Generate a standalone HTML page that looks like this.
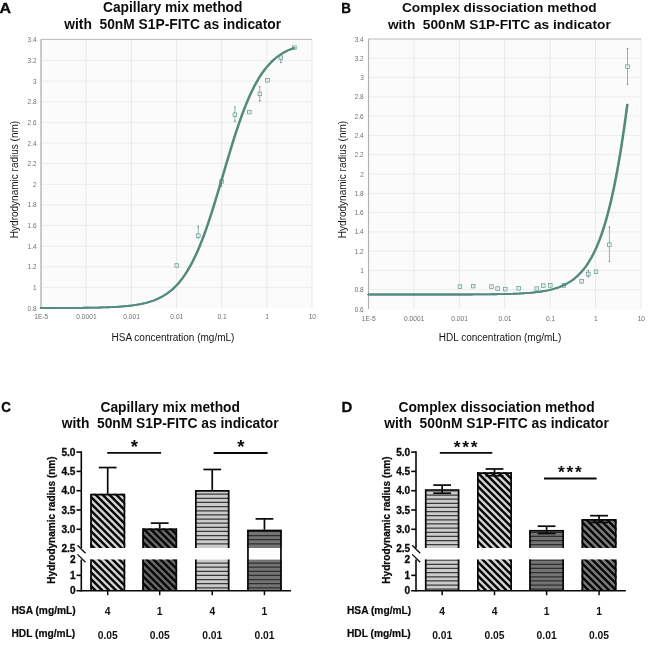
<!DOCTYPE html>
<html lang="en"><head><meta charset="utf-8"><title>Figure</title>
<style>html,body{margin:0;padding:0;background:#fff}body{width:650px;height:649px;overflow:hidden}svg{display:block}</style>
</head><body>
<svg width="650" height="649" viewBox="0 0 650 649" font-family='"Liberation Sans", sans-serif'>
<defs>
</defs>
<rect width="650" height="649" fill="#fff"/>
<text transform="translate(-0.4,12.8) scale(1.04,1)" font-size="15.4" font-weight="bold" fill="#0a0a0a" stroke="#0a0a0a" stroke-width="0.35">A</text>
<text transform="translate(341.3,12.9) scale(0.87,1)" font-size="15.4" font-weight="bold" fill="#0a0a0a" stroke="#0a0a0a" stroke-width="0.35">B</text>
<text transform="translate(1.2,412.0) scale(0.87,1)" font-size="15.4" font-weight="bold" fill="#0a0a0a" stroke="#0a0a0a" stroke-width="0.35">C</text>
<text transform="translate(341.4,412.0) scale(0.97,1)" font-size="15.4" font-weight="bold" fill="#0a0a0a" stroke="#0a0a0a" stroke-width="0.35">D</text>
<text x="172.7" y="12.2" text-anchor="middle" font-size="13.8" font-weight="bold" fill="#0c0c0c">Capillary mix method</text>
<text x="172.7" y="28.6" text-anchor="middle" font-size="13.8" font-weight="bold" fill="#0c0c0c" xml:space="preserve" style="white-space:pre">with  50nM S1P-FITC as indicator</text>
<text x="499.3" y="12.2" text-anchor="middle" font-size="13.7" font-weight="bold" fill="#0c0c0c">Complex dissociation method</text>
<text x="499.3" y="28.6" text-anchor="middle" font-size="13.7" font-weight="bold" fill="#0c0c0c" xml:space="preserve" style="white-space:pre">with  500nM S1P-FITC as indicator</text>
<text x="170.2" y="411.6" text-anchor="middle" font-size="13.8" font-weight="bold" fill="#0c0c0c">Capillary mix method</text>
<text x="170.2" y="428.2" text-anchor="middle" font-size="13.8" font-weight="bold" fill="#0c0c0c" xml:space="preserve" style="white-space:pre">with  50nM S1P-FITC as indicator</text>
<text x="496.6" y="411.8" text-anchor="middle" font-size="13.8" font-weight="bold" fill="#0c0c0c">Complex dissociation method</text>
<text x="496.6" y="428.4" text-anchor="middle" font-size="13.8" font-weight="bold" fill="#0c0c0c" xml:space="preserve" style="white-space:pre">with  500nM S1P-FITC as indicator</text>
<rect x="41" y="39.4" width="271" height="268.6" fill="#fbfbfb"/>
<line x1="86.17" y1="39.4" x2="86.17" y2="308" stroke="#e9e9e9" stroke-width="1"/>
<line x1="131.33" y1="39.4" x2="131.33" y2="308" stroke="#e9e9e9" stroke-width="1"/>
<line x1="176.5" y1="39.4" x2="176.5" y2="308" stroke="#e9e9e9" stroke-width="1"/>
<line x1="221.67" y1="39.4" x2="221.67" y2="308" stroke="#e9e9e9" stroke-width="1"/>
<line x1="266.83" y1="39.4" x2="266.83" y2="308" stroke="#e9e9e9" stroke-width="1"/>
<line x1="312" y1="39.4" x2="312" y2="308" stroke="#e9e9e9" stroke-width="1"/>
<line x1="41" y1="60.52" x2="312" y2="60.52" stroke="#ececec" stroke-width="1"/>
<line x1="41" y1="81.15" x2="312" y2="81.15" stroke="#ececec" stroke-width="1"/>
<line x1="41" y1="101.77" x2="312" y2="101.77" stroke="#ececec" stroke-width="1"/>
<line x1="41" y1="122.39" x2="312" y2="122.39" stroke="#ececec" stroke-width="1"/>
<line x1="41" y1="143.02" x2="312" y2="143.02" stroke="#ececec" stroke-width="1"/>
<line x1="41" y1="163.64" x2="312" y2="163.64" stroke="#ececec" stroke-width="1"/>
<line x1="41" y1="184.26" x2="312" y2="184.26" stroke="#ececec" stroke-width="1"/>
<line x1="41" y1="204.88" x2="312" y2="204.88" stroke="#ececec" stroke-width="1"/>
<line x1="41" y1="225.51" x2="312" y2="225.51" stroke="#ececec" stroke-width="1"/>
<line x1="41" y1="246.13" x2="312" y2="246.13" stroke="#ececec" stroke-width="1"/>
<line x1="41" y1="266.75" x2="312" y2="266.75" stroke="#ececec" stroke-width="1"/>
<line x1="41" y1="287.38" x2="312" y2="287.38" stroke="#ececec" stroke-width="1"/>
<line x1="41" y1="39.4" x2="312" y2="39.4" stroke="#b9b9b9" stroke-width="1"/>
<line x1="41" y1="39.4" x2="41" y2="308" stroke="#a0a0a0" stroke-width="1.1"/>
<text transform="translate(36.5,42.4) scale(0.93,1)" text-anchor="end" font-size="6.9" fill="#6e6e6e">3.4</text>
<text transform="translate(36.5,63.02) scale(0.93,1)" text-anchor="end" font-size="6.9" fill="#6e6e6e">3.2</text>
<text transform="translate(36.5,83.65) scale(0.93,1)" text-anchor="end" font-size="6.9" fill="#6e6e6e">3</text>
<text transform="translate(36.5,104.27) scale(0.93,1)" text-anchor="end" font-size="6.9" fill="#6e6e6e">2.8</text>
<text transform="translate(36.5,124.89) scale(0.93,1)" text-anchor="end" font-size="6.9" fill="#6e6e6e">2.6</text>
<text transform="translate(36.5,145.52) scale(0.93,1)" text-anchor="end" font-size="6.9" fill="#6e6e6e">2.4</text>
<text transform="translate(36.5,166.14) scale(0.93,1)" text-anchor="end" font-size="6.9" fill="#6e6e6e">2.2</text>
<text transform="translate(36.5,186.76) scale(0.93,1)" text-anchor="end" font-size="6.9" fill="#6e6e6e">2</text>
<text transform="translate(36.5,207.38) scale(0.93,1)" text-anchor="end" font-size="6.9" fill="#6e6e6e">1.8</text>
<text transform="translate(36.5,228.01) scale(0.93,1)" text-anchor="end" font-size="6.9" fill="#6e6e6e">1.6</text>
<text transform="translate(36.5,248.63) scale(0.93,1)" text-anchor="end" font-size="6.9" fill="#6e6e6e">1.4</text>
<text transform="translate(36.5,269.25) scale(0.93,1)" text-anchor="end" font-size="6.9" fill="#6e6e6e">1.2</text>
<text transform="translate(36.5,289.88) scale(0.93,1)" text-anchor="end" font-size="6.9" fill="#6e6e6e">1</text>
<text transform="translate(36.5,310.5) scale(0.93,1)" text-anchor="end" font-size="6.9" fill="#6e6e6e">0.8</text>
<text transform="translate(41.3,319.3) scale(0.96,1)" text-anchor="middle" font-size="6.9" fill="#6e6e6e">1E-5</text>
<text transform="translate(86.47,319.3) scale(0.96,1)" text-anchor="middle" font-size="6.9" fill="#6e6e6e">0.0001</text>
<text transform="translate(131.63,319.3) scale(0.96,1)" text-anchor="middle" font-size="6.9" fill="#6e6e6e">0.001</text>
<text transform="translate(176.8,319.3) scale(0.96,1)" text-anchor="middle" font-size="6.9" fill="#6e6e6e">0.01</text>
<text transform="translate(221.97,319.3) scale(0.96,1)" text-anchor="middle" font-size="6.9" fill="#6e6e6e">0.1</text>
<text transform="translate(267.13,319.3) scale(0.96,1)" text-anchor="middle" font-size="6.9" fill="#6e6e6e">1</text>
<text transform="translate(312.3,319.3) scale(0.96,1)" text-anchor="middle" font-size="6.9" fill="#6e6e6e">10</text>
<line x1="176.8" y1="264" x2="176.8" y2="267" stroke="#5f9688" stroke-width="0.7"/>
<rect x="175" y="263.7" width="3.6" height="3.6" fill="#f4f7f6" fill-opacity="0.7" stroke="#5f9688" stroke-width="0.7"/>
<line x1="198.3" y1="226.4" x2="198.3" y2="238" stroke="#5f9688" stroke-width="0.7"/>
<circle cx="198.3" cy="226.4" r="0.8" fill="#5f9688"/><circle cx="198.3" cy="238" r="0.8" fill="#5f9688"/>
<rect x="196.5" y="233.9" width="3.6" height="3.6" fill="#f4f7f6" fill-opacity="0.7" stroke="#5f9688" stroke-width="0.7"/>
<line x1="221.5" y1="181.5" x2="221.5" y2="186.5" stroke="#5f9688" stroke-width="0.7"/>
<circle cx="221.5" cy="181.5" r="0.8" fill="#5f9688"/><circle cx="221.5" cy="186.5" r="0.8" fill="#5f9688"/>
<rect x="219.7" y="179.7" width="3.6" height="3.6" fill="#f4f7f6" fill-opacity="0.7" stroke="#5f9688" stroke-width="0.7"/>
<line x1="234.9" y1="107" x2="234.9" y2="121.4" stroke="#5f9688" stroke-width="0.7"/>
<circle cx="234.9" cy="107" r="0.8" fill="#5f9688"/><circle cx="234.9" cy="121.4" r="0.8" fill="#5f9688"/>
<rect x="233.1" y="112.9" width="3.6" height="3.6" fill="#f4f7f6" fill-opacity="0.7" stroke="#5f9688" stroke-width="0.7"/>
<line x1="249.3" y1="110.6" x2="249.3" y2="113.6" stroke="#5f9688" stroke-width="0.7"/>
<rect x="247.5" y="110.3" width="3.6" height="3.6" fill="#f4f7f6" fill-opacity="0.7" stroke="#5f9688" stroke-width="0.7"/>
<line x1="259.8" y1="86.7" x2="259.8" y2="100.9" stroke="#5f9688" stroke-width="0.7"/>
<circle cx="259.8" cy="86.7" r="0.8" fill="#5f9688"/><circle cx="259.8" cy="100.9" r="0.8" fill="#5f9688"/>
<rect x="258" y="92.1" width="3.6" height="3.6" fill="#f4f7f6" fill-opacity="0.7" stroke="#5f9688" stroke-width="0.7"/>
<line x1="267.5" y1="78.9" x2="267.5" y2="81.9" stroke="#5f9688" stroke-width="0.7"/>
<rect x="265.7" y="78.6" width="3.6" height="3.6" fill="#f4f7f6" fill-opacity="0.7" stroke="#5f9688" stroke-width="0.7"/>
<line x1="280.9" y1="57.7" x2="280.9" y2="62.4" stroke="#5f9688" stroke-width="0.7"/>
<circle cx="280.9" cy="57.7" r="0.8" fill="#5f9688"/><circle cx="280.9" cy="62.4" r="0.8" fill="#5f9688"/>
<rect x="279.1" y="55.9" width="3.6" height="3.6" fill="#f4f7f6" fill-opacity="0.7" stroke="#5f9688" stroke-width="0.7"/>
<line x1="294.4" y1="46.2" x2="294.4" y2="49.2" stroke="#5f9688" stroke-width="0.7"/>
<rect x="292.6" y="45.9" width="3.6" height="3.6" fill="#f4f7f6" fill-opacity="0.7" stroke="#5f9688" stroke-width="0.7"/>
<g fill="none" stroke="#538a7e" stroke-width="1.85" stroke-linecap="round" stroke-linejoin="round"><polyline points="41,307.98 42.58,307.97 44.16,307.97 45.74,307.97 47.33,307.97 48.91,307.96 50.49,307.96 52.07,307.96 53.65,307.95 55.23,307.95 56.81,307.94 58.4,307.94 59.98,307.93 61.56,307.93 63.14,307.92 64.72,307.92 66.3,307.91 67.88,307.9 69.47,307.89 71.05,307.89 72.63,307.88 74.21,307.87 75.79,307.85 77.37,307.84 78.95,307.83 80.54,307.81 82.12,307.8 83.7,307.78 85.28,307.76 86.86,307.74 88.44,307.72 90.02,307.7 91.61,307.67 93.19,307.65 94.77,307.62 96.35,307.59 97.93,307.55 99.51,307.51 101.09,307.47 102.68,307.43 104.26,307.38 105.84,307.33 107.42,307.27 109,307.21 110.58,307.14 112.16,307.07 113.75,307 115.33,306.91 116.91,306.82 118.49,306.72 120.07,306.61 121.65,306.5 123.23,306.37 124.81,306.24 126.4,306.09 127.98,305.93 129.56,305.76 131.14,305.57 132.72,305.37 134.3,305.15 135.88,304.92 137.47,304.66 139.05,304.39 140.63,304.09 142.21,303.76 143.79,303.41 145.37,303.04 146.95,302.63 148.54,302.19 150.12,301.71 151.7,301.19 153.28,300.64 154.86,300.04 156.44,299.39 158.02,298.69 159.61,297.94 161.19,297.13 162.77,296.26 164.35,295.32 165.93,294.31 167.51,293.23 169.09,292.06 170.68,290.81 172.26,289.46 173.84,288.02 175.42,286.48 177,284.83 178.58,283.07 180.16,281.18 181.75,279.18 183.33,277.04 184.91,274.76 186.49,272.34 188.07,269.78 189.65,267.06 191.23,264.19 192.82,261.15 194.4,257.96 195.98,254.6 197.56,251.07 199.14,247.37 200.72,243.51 202.3,239.49 203.89,235.3 205.47,230.96 207.05,226.46 208.63,221.83 210.21,217.06 211.79,212.16 213.37,207.15 214.96,202.04 216.54,196.85 218.12,191.59 219.7,186.27 221.28,180.91 222.86,175.53 224.44,170.15 226.03,164.78 227.61,159.45 229.19,154.16 230.77,148.94 232.35,143.79 233.93,138.74 235.51,133.8 237.1,128.98 238.68,124.29 240.26,119.74 241.84,115.33 243.42,111.09 245,107 246.58,103.07 248.17,99.31 249.75,95.71 251.33,92.29 252.91,89.03 254.49,85.93 256.07,82.99 257.65,80.21 259.24,77.59 260.82,75.11 262.4,72.78 263.98,70.59 265.56,68.53 267.14,66.6 268.72,64.79 270.31,63.09 271.89,61.51 273.47,60.03 275.05,58.65 276.63,57.36 278.21,56.16 279.79,55.04 281.38,54 282.96,53.04 284.54,52.14 286.12,51.3 287.7,50.53 289.28,49.81 290.86,49.14 292.44,48.53 294.03,47.95" transform="translate(-0.35,0)"/><polyline points="41,307.98 42.58,307.97 44.16,307.97 45.74,307.97 47.33,307.97 48.91,307.96 50.49,307.96 52.07,307.96 53.65,307.95 55.23,307.95 56.81,307.94 58.4,307.94 59.98,307.93 61.56,307.93 63.14,307.92 64.72,307.92 66.3,307.91 67.88,307.9 69.47,307.89 71.05,307.89 72.63,307.88 74.21,307.87 75.79,307.85 77.37,307.84 78.95,307.83 80.54,307.81 82.12,307.8 83.7,307.78 85.28,307.76 86.86,307.74 88.44,307.72 90.02,307.7 91.61,307.67 93.19,307.65 94.77,307.62 96.35,307.59 97.93,307.55 99.51,307.51 101.09,307.47 102.68,307.43 104.26,307.38 105.84,307.33 107.42,307.27 109,307.21 110.58,307.14 112.16,307.07 113.75,307 115.33,306.91 116.91,306.82 118.49,306.72 120.07,306.61 121.65,306.5 123.23,306.37 124.81,306.24 126.4,306.09 127.98,305.93 129.56,305.76 131.14,305.57 132.72,305.37 134.3,305.15 135.88,304.92 137.47,304.66 139.05,304.39 140.63,304.09 142.21,303.76 143.79,303.41 145.37,303.04 146.95,302.63 148.54,302.19 150.12,301.71 151.7,301.19 153.28,300.64 154.86,300.04 156.44,299.39 158.02,298.69 159.61,297.94 161.19,297.13 162.77,296.26 164.35,295.32 165.93,294.31 167.51,293.23 169.09,292.06 170.68,290.81 172.26,289.46 173.84,288.02 175.42,286.48 177,284.83 178.58,283.07 180.16,281.18 181.75,279.18 183.33,277.04 184.91,274.76 186.49,272.34 188.07,269.78 189.65,267.06 191.23,264.19 192.82,261.15 194.4,257.96 195.98,254.6 197.56,251.07 199.14,247.37 200.72,243.51 202.3,239.49 203.89,235.3 205.47,230.96 207.05,226.46 208.63,221.83 210.21,217.06 211.79,212.16 213.37,207.15 214.96,202.04 216.54,196.85 218.12,191.59 219.7,186.27 221.28,180.91 222.86,175.53 224.44,170.15 226.03,164.78 227.61,159.45 229.19,154.16 230.77,148.94 232.35,143.79 233.93,138.74 235.51,133.8 237.1,128.98 238.68,124.29 240.26,119.74 241.84,115.33 243.42,111.09 245,107 246.58,103.07 248.17,99.31 249.75,95.71 251.33,92.29 252.91,89.03 254.49,85.93 256.07,82.99 257.65,80.21 259.24,77.59 260.82,75.11 262.4,72.78 263.98,70.59 265.56,68.53 267.14,66.6 268.72,64.79 270.31,63.09 271.89,61.51 273.47,60.03 275.05,58.65 276.63,57.36 278.21,56.16 279.79,55.04 281.38,54 282.96,53.04 284.54,52.14 286.12,51.3 287.7,50.53 289.28,49.81 290.86,49.14 292.44,48.53 294.03,47.95" transform="translate(0.35,0)"/></g>
<text transform="translate(17.8,179.5) rotate(-90)" text-anchor="middle" font-size="10" fill="#161616">Hydrodynamic radius (nm)</text>
<text x="173" y="341.3" text-anchor="middle" font-size="10" fill="#161616">HSA concentration (mg/mL)</text>
<rect x="368.5" y="39" width="272.5" height="270" fill="#fbfbfb"/>
<line x1="413.92" y1="39" x2="413.92" y2="309" stroke="#e9e9e9" stroke-width="1"/>
<line x1="459.33" y1="39" x2="459.33" y2="309" stroke="#e9e9e9" stroke-width="1"/>
<line x1="504.75" y1="39" x2="504.75" y2="309" stroke="#e9e9e9" stroke-width="1"/>
<line x1="550.17" y1="39" x2="550.17" y2="309" stroke="#e9e9e9" stroke-width="1"/>
<line x1="595.58" y1="39" x2="595.58" y2="309" stroke="#e9e9e9" stroke-width="1"/>
<line x1="641" y1="39" x2="641" y2="309" stroke="#e9e9e9" stroke-width="1"/>
<line x1="368.5" y1="58.29" x2="641" y2="58.29" stroke="#ececec" stroke-width="1"/>
<line x1="368.5" y1="77.57" x2="641" y2="77.57" stroke="#ececec" stroke-width="1"/>
<line x1="368.5" y1="96.86" x2="641" y2="96.86" stroke="#ececec" stroke-width="1"/>
<line x1="368.5" y1="116.14" x2="641" y2="116.14" stroke="#ececec" stroke-width="1"/>
<line x1="368.5" y1="135.43" x2="641" y2="135.43" stroke="#ececec" stroke-width="1"/>
<line x1="368.5" y1="154.71" x2="641" y2="154.71" stroke="#ececec" stroke-width="1"/>
<line x1="368.5" y1="174" x2="641" y2="174" stroke="#ececec" stroke-width="1"/>
<line x1="368.5" y1="193.29" x2="641" y2="193.29" stroke="#ececec" stroke-width="1"/>
<line x1="368.5" y1="212.57" x2="641" y2="212.57" stroke="#ececec" stroke-width="1"/>
<line x1="368.5" y1="231.86" x2="641" y2="231.86" stroke="#ececec" stroke-width="1"/>
<line x1="368.5" y1="251.14" x2="641" y2="251.14" stroke="#ececec" stroke-width="1"/>
<line x1="368.5" y1="270.43" x2="641" y2="270.43" stroke="#ececec" stroke-width="1"/>
<line x1="368.5" y1="289.71" x2="641" y2="289.71" stroke="#ececec" stroke-width="1"/>
<line x1="368.5" y1="39" x2="641" y2="39" stroke="#b9b9b9" stroke-width="1"/>
<line x1="368.5" y1="39" x2="368.5" y2="309" stroke="#b0b0b0" stroke-width="1.1"/>
<text transform="translate(363.7,41.5) scale(0.93,1)" text-anchor="end" font-size="6.9" fill="#6e6e6e">3.4</text>
<text transform="translate(363.7,60.79) scale(0.93,1)" text-anchor="end" font-size="6.9" fill="#6e6e6e">3.2</text>
<text transform="translate(363.7,80.07) scale(0.93,1)" text-anchor="end" font-size="6.9" fill="#6e6e6e">3</text>
<text transform="translate(363.7,99.36) scale(0.93,1)" text-anchor="end" font-size="6.9" fill="#6e6e6e">2.8</text>
<text transform="translate(363.7,118.64) scale(0.93,1)" text-anchor="end" font-size="6.9" fill="#6e6e6e">2.6</text>
<text transform="translate(363.7,137.93) scale(0.93,1)" text-anchor="end" font-size="6.9" fill="#6e6e6e">2.4</text>
<text transform="translate(363.7,157.21) scale(0.93,1)" text-anchor="end" font-size="6.9" fill="#6e6e6e">2.2</text>
<text transform="translate(363.7,176.5) scale(0.93,1)" text-anchor="end" font-size="6.9" fill="#6e6e6e">2</text>
<text transform="translate(363.7,195.79) scale(0.93,1)" text-anchor="end" font-size="6.9" fill="#6e6e6e">1.8</text>
<text transform="translate(363.7,215.07) scale(0.93,1)" text-anchor="end" font-size="6.9" fill="#6e6e6e">1.6</text>
<text transform="translate(363.7,234.36) scale(0.93,1)" text-anchor="end" font-size="6.9" fill="#6e6e6e">1.4</text>
<text transform="translate(363.7,253.64) scale(0.93,1)" text-anchor="end" font-size="6.9" fill="#6e6e6e">1.2</text>
<text transform="translate(363.7,272.93) scale(0.93,1)" text-anchor="end" font-size="6.9" fill="#6e6e6e">1</text>
<text transform="translate(363.7,292.21) scale(0.93,1)" text-anchor="end" font-size="6.9" fill="#6e6e6e">0.8</text>
<text transform="translate(363.7,311.5) scale(0.93,1)" text-anchor="end" font-size="6.9" fill="#6e6e6e">0.6</text>
<text transform="translate(368.8,320.5) scale(0.96,1)" text-anchor="middle" font-size="6.9" fill="#6e6e6e">1E-5</text>
<text transform="translate(414.22,320.5) scale(0.96,1)" text-anchor="middle" font-size="6.9" fill="#6e6e6e">0.0001</text>
<text transform="translate(459.63,320.5) scale(0.96,1)" text-anchor="middle" font-size="6.9" fill="#6e6e6e">0.001</text>
<text transform="translate(505.05,320.5) scale(0.96,1)" text-anchor="middle" font-size="6.9" fill="#6e6e6e">0.01</text>
<text transform="translate(550.47,320.5) scale(0.96,1)" text-anchor="middle" font-size="6.9" fill="#6e6e6e">0.1</text>
<text transform="translate(595.88,320.5) scale(0.96,1)" text-anchor="middle" font-size="6.9" fill="#6e6e6e">1</text>
<text transform="translate(641.3,320.5) scale(0.96,1)" text-anchor="middle" font-size="6.9" fill="#6e6e6e">10</text>
<line x1="459.9" y1="285.1" x2="459.9" y2="288.1" stroke="#5f9688" stroke-width="0.7"/>
<rect x="458.1" y="284.8" width="3.6" height="3.6" fill="#f4f7f6" fill-opacity="0.7" stroke="#5f9688" stroke-width="0.7"/>
<line x1="473.2" y1="284.6" x2="473.2" y2="287.6" stroke="#5f9688" stroke-width="0.7"/>
<rect x="471.4" y="284.3" width="3.6" height="3.6" fill="#f4f7f6" fill-opacity="0.7" stroke="#5f9688" stroke-width="0.7"/>
<line x1="491.5" y1="285.1" x2="491.5" y2="288.1" stroke="#5f9688" stroke-width="0.7"/>
<rect x="489.7" y="284.8" width="3.6" height="3.6" fill="#f4f7f6" fill-opacity="0.7" stroke="#5f9688" stroke-width="0.7"/>
<line x1="497.6" y1="287.1" x2="497.6" y2="290.1" stroke="#5f9688" stroke-width="0.7"/>
<rect x="495.8" y="286.8" width="3.6" height="3.6" fill="#f4f7f6" fill-opacity="0.7" stroke="#5f9688" stroke-width="0.7"/>
<line x1="505.3" y1="287.6" x2="505.3" y2="290.6" stroke="#5f9688" stroke-width="0.7"/>
<rect x="503.5" y="287.3" width="3.6" height="3.6" fill="#f4f7f6" fill-opacity="0.7" stroke="#5f9688" stroke-width="0.7"/>
<line x1="518.7" y1="286.9" x2="518.7" y2="289.9" stroke="#5f9688" stroke-width="0.7"/>
<rect x="516.9" y="286.6" width="3.6" height="3.6" fill="#f4f7f6" fill-opacity="0.7" stroke="#5f9688" stroke-width="0.7"/>
<line x1="536.7" y1="287.1" x2="536.7" y2="290.1" stroke="#5f9688" stroke-width="0.7"/>
<rect x="534.9" y="286.8" width="3.6" height="3.6" fill="#f4f7f6" fill-opacity="0.7" stroke="#5f9688" stroke-width="0.7"/>
<line x1="543.3" y1="284.1" x2="543.3" y2="287.1" stroke="#5f9688" stroke-width="0.7"/>
<rect x="541.5" y="283.8" width="3.6" height="3.6" fill="#f4f7f6" fill-opacity="0.7" stroke="#5f9688" stroke-width="0.7"/>
<line x1="550.3" y1="283.9" x2="550.3" y2="286.9" stroke="#5f9688" stroke-width="0.7"/>
<rect x="548.5" y="283.6" width="3.6" height="3.6" fill="#f4f7f6" fill-opacity="0.7" stroke="#5f9688" stroke-width="0.7"/>
<line x1="563.9" y1="283.9" x2="563.9" y2="286.9" stroke="#5f9688" stroke-width="0.7"/>
<rect x="562.1" y="283.6" width="3.6" height="3.6" fill="#f4f7f6" fill-opacity="0.7" stroke="#5f9688" stroke-width="0.7"/>
<line x1="581.7" y1="279.8" x2="581.7" y2="282.8" stroke="#5f9688" stroke-width="0.7"/>
<rect x="579.9" y="279.5" width="3.6" height="3.6" fill="#f4f7f6" fill-opacity="0.7" stroke="#5f9688" stroke-width="0.7"/>
<line x1="588.3" y1="270.5" x2="588.3" y2="277" stroke="#5f9688" stroke-width="0.7"/>
<circle cx="588.3" cy="270.5" r="0.8" fill="#5f9688"/><circle cx="588.3" cy="277" r="0.8" fill="#5f9688"/>
<rect x="586.5" y="272.2" width="3.6" height="3.6" fill="#f4f7f6" fill-opacity="0.7" stroke="#5f9688" stroke-width="0.7"/>
<line x1="596" y1="270.3" x2="596" y2="273.3" stroke="#5f9688" stroke-width="0.7"/>
<rect x="594.2" y="270" width="3.6" height="3.6" fill="#f4f7f6" fill-opacity="0.7" stroke="#5f9688" stroke-width="0.7"/>
<line x1="609.4" y1="227" x2="609.4" y2="261.5" stroke="#5f9688" stroke-width="0.7"/>
<circle cx="609.4" cy="227" r="0.8" fill="#5f9688"/><circle cx="609.4" cy="261.5" r="0.8" fill="#5f9688"/>
<rect x="607.6" y="242.9" width="3.6" height="3.6" fill="#f4f7f6" fill-opacity="0.7" stroke="#5f9688" stroke-width="0.7"/>
<line x1="627.5" y1="48.5" x2="627.5" y2="84.2" stroke="#5f9688" stroke-width="0.7"/>
<circle cx="627.5" cy="48.5" r="0.8" fill="#5f9688"/><circle cx="627.5" cy="84.2" r="0.8" fill="#5f9688"/>
<rect x="625.7" y="64.8" width="3.6" height="3.6" fill="#f4f7f6" fill-opacity="0.7" stroke="#5f9688" stroke-width="0.7"/>
<g fill="none" stroke="#538a7e" stroke-width="1.85" stroke-linecap="round" stroke-linejoin="round"><polyline points="368.5,294.54 370.12,294.54 371.74,294.54 373.35,294.54 374.97,294.54 376.59,294.53 378.21,294.53 379.82,294.53 381.44,294.53 383.06,294.53 384.68,294.53 386.29,294.53 387.91,294.53 389.53,294.53 391.15,294.53 392.77,294.53 394.38,294.53 396,294.53 397.62,294.53 399.24,294.53 400.85,294.53 402.47,294.53 404.09,294.53 405.71,294.53 407.32,294.53 408.94,294.53 410.56,294.53 412.18,294.53 413.79,294.53 415.41,294.53 417.03,294.53 418.65,294.53 420.27,294.53 421.88,294.53 423.5,294.53 425.12,294.53 426.74,294.53 428.35,294.53 429.97,294.52 431.59,294.52 433.21,294.52 434.82,294.52 436.44,294.52 438.06,294.52 439.68,294.52 441.3,294.52 442.91,294.52 444.53,294.51 446.15,294.51 447.77,294.51 449.38,294.51 451,294.5 452.62,294.5 454.24,294.5 455.85,294.5 457.47,294.49 459.09,294.49 460.71,294.48 462.33,294.48 463.94,294.48 465.56,294.47 467.18,294.47 468.8,294.46 470.41,294.45 472.03,294.45 473.65,294.44 475.27,294.43 476.88,294.42 478.5,294.41 480.12,294.4 481.74,294.39 483.36,294.38 484.97,294.36 486.59,294.35 488.21,294.33 489.83,294.31 491.44,294.29 493.06,294.27 494.68,294.25 496.3,294.23 497.91,294.2 499.53,294.17 501.15,294.14 502.77,294.11 504.38,294.07 506,294.03 507.62,293.99 509.24,293.94 510.86,293.89 512.47,293.83 514.09,293.77 515.71,293.71 517.33,293.64 518.94,293.56 520.56,293.48 522.18,293.39 523.8,293.29 525.41,293.18 527.03,293.07 528.65,292.94 530.27,292.81 531.89,292.66 533.5,292.5 535.12,292.33 536.74,292.14 538.36,291.93 539.97,291.71 541.59,291.47 543.21,291.21 544.83,290.93 546.44,290.62 548.06,290.29 549.68,289.92 551.3,289.53 552.92,289.11 554.53,288.65 556.15,288.15 557.77,287.6 559.39,287.02 561,286.38 562.62,285.69 564.24,284.94 565.86,284.13 567.47,283.25 569.09,282.3 570.71,281.27 572.33,280.15 573.94,278.94 575.56,277.63 577.18,276.21 578.8,274.68 580.42,273.02 582.03,271.23 583.65,269.29 585.27,267.19 586.89,264.93 588.5,262.49 590.12,259.85 591.74,257 593.36,253.93 594.97,250.62 596.59,247.05 598.21,243.21 599.83,239.08 601.45,234.64 603.06,229.87 604.68,224.75 606.3,219.26 607.92,213.37 609.53,207.07 611.15,200.34 612.77,193.15 614.39,185.48 616,177.3 617.62,168.61 619.24,159.38 620.86,149.59 622.48,139.23 624.09,128.28 625.71,116.73 627.33,104.57" transform="translate(-0.35,0)"/><polyline points="368.5,294.54 370.12,294.54 371.74,294.54 373.35,294.54 374.97,294.54 376.59,294.53 378.21,294.53 379.82,294.53 381.44,294.53 383.06,294.53 384.68,294.53 386.29,294.53 387.91,294.53 389.53,294.53 391.15,294.53 392.77,294.53 394.38,294.53 396,294.53 397.62,294.53 399.24,294.53 400.85,294.53 402.47,294.53 404.09,294.53 405.71,294.53 407.32,294.53 408.94,294.53 410.56,294.53 412.18,294.53 413.79,294.53 415.41,294.53 417.03,294.53 418.65,294.53 420.27,294.53 421.88,294.53 423.5,294.53 425.12,294.53 426.74,294.53 428.35,294.53 429.97,294.52 431.59,294.52 433.21,294.52 434.82,294.52 436.44,294.52 438.06,294.52 439.68,294.52 441.3,294.52 442.91,294.52 444.53,294.51 446.15,294.51 447.77,294.51 449.38,294.51 451,294.5 452.62,294.5 454.24,294.5 455.85,294.5 457.47,294.49 459.09,294.49 460.71,294.48 462.33,294.48 463.94,294.48 465.56,294.47 467.18,294.47 468.8,294.46 470.41,294.45 472.03,294.45 473.65,294.44 475.27,294.43 476.88,294.42 478.5,294.41 480.12,294.4 481.74,294.39 483.36,294.38 484.97,294.36 486.59,294.35 488.21,294.33 489.83,294.31 491.44,294.29 493.06,294.27 494.68,294.25 496.3,294.23 497.91,294.2 499.53,294.17 501.15,294.14 502.77,294.11 504.38,294.07 506,294.03 507.62,293.99 509.24,293.94 510.86,293.89 512.47,293.83 514.09,293.77 515.71,293.71 517.33,293.64 518.94,293.56 520.56,293.48 522.18,293.39 523.8,293.29 525.41,293.18 527.03,293.07 528.65,292.94 530.27,292.81 531.89,292.66 533.5,292.5 535.12,292.33 536.74,292.14 538.36,291.93 539.97,291.71 541.59,291.47 543.21,291.21 544.83,290.93 546.44,290.62 548.06,290.29 549.68,289.92 551.3,289.53 552.92,289.11 554.53,288.65 556.15,288.15 557.77,287.6 559.39,287.02 561,286.38 562.62,285.69 564.24,284.94 565.86,284.13 567.47,283.25 569.09,282.3 570.71,281.27 572.33,280.15 573.94,278.94 575.56,277.63 577.18,276.21 578.8,274.68 580.42,273.02 582.03,271.23 583.65,269.29 585.27,267.19 586.89,264.93 588.5,262.49 590.12,259.85 591.74,257 593.36,253.93 594.97,250.62 596.59,247.05 598.21,243.21 599.83,239.08 601.45,234.64 603.06,229.87 604.68,224.75 606.3,219.26 607.92,213.37 609.53,207.07 611.15,200.34 612.77,193.15 614.39,185.48 616,177.3 617.62,168.61 619.24,159.38 620.86,149.59 622.48,139.23 624.09,128.28 625.71,116.73 627.33,104.57" transform="translate(0.35,0)"/></g>
<text transform="translate(346,179.5) rotate(-90)" text-anchor="middle" font-size="10" fill="#161616">Hydrodynamic radius (nm)</text>
<text x="500" y="341.3" text-anchor="middle" font-size="10" fill="#161616">HDL concentration (mg/mL)</text>
<clipPath id="c81_0_0"><rect x="90.2" y="493.79" width="35" height="54.21"/></clipPath>
<rect x="90.2" y="493.79" width="35" height="54.21" fill="#d4d4d4"/>
<g clip-path="url(#c81_0_0)" stroke="#080808" fill="none"><path d="M87.2 458.85L128.2 499.85M87.2 465.7L128.2 506.7M87.2 472.55L128.2 513.55M87.2 479.4L128.2 520.4M87.2 486.25L128.2 527.25M87.2 493.1L128.2 534.1M87.2 499.95L128.2 540.95M87.2 506.8L128.2 547.8M87.2 513.65L128.2 554.65M87.2 520.5L128.2 561.5M87.2 527.35L128.2 568.35M87.2 534.2L128.2 575.2M87.2 541.05L128.2 582.05M87.2 547.9L128.2 588.9" stroke-width="2.45"/></g>
<clipPath id="c81_0_1"><rect x="90.2" y="559.6" width="35" height="31.2"/></clipPath>
<rect x="90.2" y="559.6" width="35" height="31.2" fill="#d4d4d4"/>
<g clip-path="url(#c81_0_1)" stroke="#080808" fill="none"><path d="M87.2 520.5L128.2 561.5M87.2 527.35L128.2 568.35M87.2 534.2L128.2 575.2M87.2 541.05L128.2 582.05M87.2 547.9L128.2 588.9M87.2 554.75L128.2 595.75M87.2 561.6L128.2 602.6M87.2 568.45L128.2 609.45M87.2 575.3L128.2 616.3M87.2 582.15L128.2 623.15M87.2 589L128.2 630" stroke-width="2.45"/></g>
<path d="M91.05 548.0 V494.64 H124.35 V548.0" fill="none" stroke="#080808" stroke-width="1.7"/>
<path d="M91.05 559.6 V590.8 M124.35 559.6 V590.8" fill="none" stroke="#080808" stroke-width="1.7"/>
<line x1="107.7" y1="467.54" x2="107.7" y2="493.79" stroke="#080808" stroke-width="1.7"/>
<line x1="98.8" y1="467.54" x2="116.6" y2="467.54" stroke="#080808" stroke-width="1.7"/>
<line x1="107.7" y1="590.8" x2="107.7" y2="595.2" stroke="#080808" stroke-width="1.5"/>
<clipPath id="c81_1_0"><rect x="142.3" y="528.53" width="34.8" height="19.47"/></clipPath>
<rect x="142.3" y="528.53" width="34.8" height="19.47" fill="#686868"/>
<g clip-path="url(#c81_1_0)" stroke="#080808" fill="none"><path d="M139.3 490.4L180.1 531.2M139.3 497.25L180.1 538.05M139.3 504.1L180.1 544.9M139.3 510.95L180.1 551.75M139.3 517.8L180.1 558.6M139.3 524.65L180.1 565.45M139.3 531.5L180.1 572.3M139.3 538.35L180.1 579.15M139.3 545.2L180.1 586" stroke-width="2.45"/></g>
<clipPath id="c81_1_1"><rect x="142.3" y="559.6" width="34.8" height="31.2"/></clipPath>
<rect x="142.3" y="559.6" width="34.8" height="31.2" fill="#686868"/>
<g clip-path="url(#c81_1_1)" stroke="#080808" fill="none"><path d="M139.3 524.65L180.1 565.45M139.3 531.5L180.1 572.3M139.3 538.35L180.1 579.15M139.3 545.2L180.1 586M139.3 552.05L180.1 592.85M139.3 558.9L180.1 599.7M139.3 565.75L180.1 606.55M139.3 572.6L180.1 613.4M139.3 579.45L180.1 620.25M139.3 586.3L180.1 627.1" stroke-width="2.45"/></g>
<path d="M143.15 548.0 V529.38 H176.25 V548.0" fill="none" stroke="#080808" stroke-width="1.7"/>
<path d="M143.15 559.6 V590.8 M176.25 559.6 V590.8" fill="none" stroke="#080808" stroke-width="1.7"/>
<line x1="159.7" y1="523.12" x2="159.7" y2="528.53" stroke="#080808" stroke-width="1.7"/>
<line x1="150.8" y1="523.12" x2="168.6" y2="523.12" stroke="#080808" stroke-width="1.7"/>
<line x1="159.7" y1="590.8" x2="159.7" y2="595.2" stroke="#080808" stroke-width="1.5"/>
<clipPath id="c81_2_0"><rect x="195" y="489.93" width="34.5" height="58.07"/></clipPath>
<rect x="195" y="489.93" width="34.5" height="58.07" fill="#cbcbcb"/>
<g clip-path="url(#c81_2_0)" stroke="#3a3a3a" fill="none"><path d="M195 490.06H229.5M195 494.2H229.5M195 498.34H229.5M195 502.48H229.5M195 506.62H229.5M195 510.76H229.5M195 514.9H229.5M195 519.04H229.5M195 523.18H229.5M195 527.32H229.5M195 531.46H229.5M195 535.6H229.5M195 539.74H229.5M195 543.88H229.5" stroke-width="1.25"/></g>
<clipPath id="c81_2_1"><rect x="195" y="559.6" width="34.5" height="31.2"/></clipPath>
<rect x="195" y="559.6" width="34.5" height="31.2" fill="#cbcbcb"/>
<g clip-path="url(#c81_2_1)" stroke="#3a3a3a" fill="none"><path d="M195 563H229.5M195 567.14H229.5M195 571.28H229.5M195 575.42H229.5M195 579.56H229.5M195 583.7H229.5M195 587.84H229.5" stroke-width="1.25"/></g>
<path d="M195.85 548.0 V490.78 H228.65 V548.0" fill="none" stroke="#080808" stroke-width="1.7"/>
<path d="M195.85 559.6 V590.8 M228.65 559.6 V590.8" fill="none" stroke="#080808" stroke-width="1.7"/>
<line x1="212.25" y1="469.47" x2="212.25" y2="489.93" stroke="#080808" stroke-width="1.7"/>
<line x1="203.35" y1="469.47" x2="221.15" y2="469.47" stroke="#080808" stroke-width="1.7"/>
<line x1="212.25" y1="590.8" x2="212.25" y2="595.2" stroke="#080808" stroke-width="1.5"/>
<clipPath id="c81_3_0"><rect x="247.1" y="529.69" width="34.7" height="18.31"/></clipPath>
<rect x="247.1" y="529.69" width="34.7" height="18.31" fill="#747474"/>
<g clip-path="url(#c81_3_0)" stroke="#2e2e2e" fill="none"><path d="M247.1 531.46H281.8M247.1 535.6H281.8M247.1 539.74H281.8M247.1 543.88H281.8" stroke-width="1.25"/></g>
<clipPath id="c81_3_1"><rect x="247.1" y="559.6" width="34.7" height="31.2"/></clipPath>
<rect x="247.1" y="559.6" width="34.7" height="31.2" fill="#747474"/>
<g clip-path="url(#c81_3_1)" stroke="#2e2e2e" fill="none"><path d="M247.1 563H281.8M247.1 567.14H281.8M247.1 571.28H281.8M247.1 575.42H281.8M247.1 579.56H281.8M247.1 583.7H281.8M247.1 587.84H281.8" stroke-width="1.25"/></g>
<path d="M247.95 590.8 V530.54 H280.95 V590.8" fill="none" stroke="#080808" stroke-width="1.7"/>
<line x1="264.45" y1="518.88" x2="264.45" y2="529.69" stroke="#080808" stroke-width="1.7"/>
<line x1="255.55" y1="518.88" x2="273.35" y2="518.88" stroke="#080808" stroke-width="1.7"/>
<line x1="264.45" y1="590.8" x2="264.45" y2="595.2" stroke="#080808" stroke-width="1.5"/>
<line x1="81.3" y1="451.3" x2="81.3" y2="548.0" stroke="#080808" stroke-width="1.6"/>
<line x1="81.3" y1="559.6" x2="81.3" y2="591.6" stroke="#080808" stroke-width="1.6"/>
<line x1="76.5" y1="590.8" x2="291.1" y2="590.8" stroke="#080808" stroke-width="1.6"/>
<line x1="77.5" y1="545.2" x2="85.5" y2="553.2" stroke="#080808" stroke-width="1.3"/>
<line x1="77.5" y1="554.4" x2="85.5" y2="562.2" stroke="#080808" stroke-width="1.3"/>
<line x1="76.5" y1="452.1" x2="81.3" y2="452.1" stroke="#080808" stroke-width="1.6"/>
<text x="75.5" y="455.8" text-anchor="end" font-size="10.1" font-weight="bold" fill="#0a0a0a" stroke="#0a0a0a" stroke-width="0.3">5.0</text>
<line x1="76.5" y1="471.4" x2="81.3" y2="471.4" stroke="#080808" stroke-width="1.6"/>
<text x="75.5" y="475.1" text-anchor="end" font-size="10.1" font-weight="bold" fill="#0a0a0a" stroke="#0a0a0a" stroke-width="0.3">4.5</text>
<line x1="76.5" y1="490.7" x2="81.3" y2="490.7" stroke="#080808" stroke-width="1.6"/>
<text x="75.5" y="494.4" text-anchor="end" font-size="10.1" font-weight="bold" fill="#0a0a0a" stroke="#0a0a0a" stroke-width="0.3">4.0</text>
<line x1="76.5" y1="510" x2="81.3" y2="510" stroke="#080808" stroke-width="1.6"/>
<text x="75.5" y="513.7" text-anchor="end" font-size="10.1" font-weight="bold" fill="#0a0a0a" stroke="#0a0a0a" stroke-width="0.3">3.5</text>
<line x1="76.5" y1="529.3" x2="81.3" y2="529.3" stroke="#080808" stroke-width="1.6"/>
<text x="75.5" y="533" text-anchor="end" font-size="10.1" font-weight="bold" fill="#0a0a0a" stroke="#0a0a0a" stroke-width="0.3">3.0</text>
<text x="75.5" y="552.0" text-anchor="end" font-size="10.1" font-weight="bold" fill="#0a0a0a" stroke="#0a0a0a" stroke-width="0.3">2.5</text>
<text x="75.5" y="562.7" text-anchor="end" font-size="10.1" font-weight="bold" fill="#0a0a0a" stroke="#0a0a0a" stroke-width="0.3">2</text>
<line x1="76.5" y1="575.35" x2="81.3" y2="575.35" stroke="#080808" stroke-width="1.6"/>
<text x="75.5" y="578.65" text-anchor="end" font-size="10.1" font-weight="bold" fill="#0a0a0a" stroke="#0a0a0a" stroke-width="0.3">1</text>
<text x="75.5" y="594.1" text-anchor="end" font-size="10.1" font-weight="bold" fill="#0a0a0a" stroke="#0a0a0a" stroke-width="0.3">0</text>
<text transform="translate(55.3,520) rotate(-90)" text-anchor="middle" font-size="10.05" font-weight="bold" fill="#0a0a0a" stroke="#0a0a0a" stroke-width="0.25">Hydrodynamic radius (nm)</text>
<line x1="107.2" y1="452.9" x2="161.10000000000002" y2="452.9" stroke="#080808" stroke-width="1.9"/>
<line x1="213.7" y1="453" x2="267.6" y2="453" stroke="#080808" stroke-width="1.9"/>
<text x="134.3" y="453.1" text-anchor="middle" font-size="18.5" font-weight="bold" fill="#0c0c0c">*</text>
<text x="240.9" y="453.1" text-anchor="middle" font-size="18.5" font-weight="bold" fill="#0c0c0c">*</text>
<text x="11.5" y="613.8" font-size="10.2" font-weight="bold" fill="#0a0a0a" stroke="#0a0a0a" stroke-width="0.2">HSA (mg/mL)</text>
<text x="11.5" y="637.4" font-size="10.2" font-weight="bold" fill="#0a0a0a" stroke="#0a0a0a" stroke-width="0.2">HDL (mg/mL)</text>
<text x="107.7" y="614.6" text-anchor="middle" font-size="10.3" font-weight="bold" fill="#111">4</text>
<text x="107.7" y="639.3" text-anchor="middle" font-size="10.3" font-weight="bold" fill="#111">0.05</text>
<text x="159.7" y="614.6" text-anchor="middle" font-size="10.3" font-weight="bold" fill="#111">1</text>
<text x="159.7" y="639.3" text-anchor="middle" font-size="10.3" font-weight="bold" fill="#111">0.05</text>
<text x="212.25" y="614.6" text-anchor="middle" font-size="10.3" font-weight="bold" fill="#111">4</text>
<text x="212.25" y="639.3" text-anchor="middle" font-size="10.3" font-weight="bold" fill="#111">0.01</text>
<text x="264.45" y="614.6" text-anchor="middle" font-size="10.3" font-weight="bold" fill="#111">1</text>
<text x="264.45" y="639.3" text-anchor="middle" font-size="10.3" font-weight="bold" fill="#111">0.01</text>
<clipPath id="c416_0_0"><rect x="424.9" y="489.16" width="34.5" height="58.84"/></clipPath>
<rect x="424.9" y="489.16" width="34.5" height="58.84" fill="#cbcbcb"/>
<g clip-path="url(#c416_0_0)" stroke="#3a3a3a" fill="none"><path d="M424.9 490.86H459.4M424.9 495H459.4M424.9 499.14H459.4M424.9 503.28H459.4M424.9 507.42H459.4M424.9 511.56H459.4M424.9 515.7H459.4M424.9 519.84H459.4M424.9 523.98H459.4M424.9 528.12H459.4M424.9 532.26H459.4M424.9 536.4H459.4M424.9 540.54H459.4M424.9 544.68H459.4" stroke-width="1.25"/></g>
<clipPath id="c416_0_1"><rect x="424.9" y="559.6" width="34.5" height="31.2"/></clipPath>
<rect x="424.9" y="559.6" width="34.5" height="31.2" fill="#cbcbcb"/>
<g clip-path="url(#c416_0_1)" stroke="#3a3a3a" fill="none"><path d="M424.9 560.2H459.4M424.9 564.34H459.4M424.9 568.48H459.4M424.9 572.62H459.4M424.9 576.76H459.4M424.9 580.9H459.4M424.9 585.04H459.4M424.9 589.18H459.4" stroke-width="1.25"/></g>
<path d="M425.75 548.0 V490.01 H458.55 V548.0" fill="none" stroke="#080808" stroke-width="1.7"/>
<path d="M425.75 559.6 V590.8 M458.55 559.6 V590.8" fill="none" stroke="#080808" stroke-width="1.7"/>
<line x1="442.15" y1="485.1" x2="442.15" y2="489.16" stroke="#080808" stroke-width="1.7"/>
<line x1="433.25" y1="485.1" x2="451.05" y2="485.1" stroke="#080808" stroke-width="1.7"/>
<line x1="442.15" y1="489.16" x2="442.15" y2="493.21" stroke="#080808" stroke-width="1.7"/>
<line x1="433.25" y1="493.21" x2="451.05" y2="493.21" stroke="#080808" stroke-width="1.7"/>
<line x1="442.15" y1="590.8" x2="442.15" y2="595.2" stroke="#080808" stroke-width="1.5"/>
<clipPath id="c416_1_0"><rect x="477" y="472.37" width="35" height="75.63"/></clipPath>
<rect x="477" y="472.37" width="35" height="75.63" fill="#d4d4d4"/>
<g clip-path="url(#c416_1_0)" stroke="#080808" fill="none"><path d="M474 434.65L515 475.65M474 441.5L515 482.5M474 448.35L515 489.35M474 455.2L515 496.2M474 462.05L515 503.05M474 468.9L515 509.9M474 475.75L515 516.75M474 482.6L515 523.6M474 489.45L515 530.45M474 496.3L515 537.3M474 503.15L515 544.15M474 510L515 551M474 516.85L515 557.85M474 523.7L515 564.7M474 530.55L515 571.55M474 537.4L515 578.4M474 544.25L515 585.25" stroke-width="2.45"/></g>
<clipPath id="c416_1_1"><rect x="477" y="559.6" width="35" height="31.2"/></clipPath>
<rect x="477" y="559.6" width="35" height="31.2" fill="#d4d4d4"/>
<g clip-path="url(#c416_1_1)" stroke="#080808" fill="none"><path d="M474 523.7L515 564.7M474 530.55L515 571.55M474 537.4L515 578.4M474 544.25L515 585.25M474 551.1L515 592.1M474 557.95L515 598.95M474 564.8L515 605.8M474 571.65L515 612.65M474 578.5L515 619.5M474 585.35L515 626.35" stroke-width="2.45"/></g>
<path d="M477.85 548.0 V473.22 H511.15 V548.0" fill="none" stroke="#080808" stroke-width="1.7"/>
<path d="M477.85 559.6 V590.8 M511.15 559.6 V590.8" fill="none" stroke="#080808" stroke-width="1.7"/>
<line x1="494.5" y1="468.97" x2="494.5" y2="472.37" stroke="#080808" stroke-width="1.7"/>
<line x1="485.6" y1="468.97" x2="503.4" y2="468.97" stroke="#080808" stroke-width="1.7"/>
<line x1="494.5" y1="472.37" x2="494.5" y2="475.76" stroke="#080808" stroke-width="1.7"/>
<line x1="485.6" y1="475.76" x2="503.4" y2="475.76" stroke="#080808" stroke-width="1.7"/>
<line x1="494.5" y1="590.8" x2="494.5" y2="595.2" stroke="#080808" stroke-width="1.5"/>
<clipPath id="c416_2_0"><rect x="529.2" y="529.88" width="34.8" height="18.12"/></clipPath>
<rect x="529.2" y="529.88" width="34.8" height="18.12" fill="#747474"/>
<g clip-path="url(#c416_2_0)" stroke="#2e2e2e" fill="none"><path d="M529.2 532.26H564M529.2 536.4H564M529.2 540.54H564M529.2 544.68H564" stroke-width="1.25"/></g>
<clipPath id="c416_2_1"><rect x="529.2" y="559.6" width="34.8" height="31.2"/></clipPath>
<rect x="529.2" y="559.6" width="34.8" height="31.2" fill="#747474"/>
<g clip-path="url(#c416_2_1)" stroke="#2e2e2e" fill="none"><path d="M529.2 560.2H564M529.2 564.34H564M529.2 568.48H564M529.2 572.62H564M529.2 576.76H564M529.2 580.9H564M529.2 585.04H564M529.2 589.18H564" stroke-width="1.25"/></g>
<path d="M530.05 548.0 V530.73 H563.15 V548.0" fill="none" stroke="#080808" stroke-width="1.7"/>
<path d="M530.05 559.6 V590.8 M563.15 559.6 V590.8" fill="none" stroke="#080808" stroke-width="1.7"/>
<line x1="546.6" y1="526.21" x2="546.6" y2="529.88" stroke="#080808" stroke-width="1.7"/>
<line x1="537.7" y1="526.21" x2="555.5" y2="526.21" stroke="#080808" stroke-width="1.7"/>
<line x1="546.6" y1="529.88" x2="546.6" y2="533.55" stroke="#080808" stroke-width="1.7"/>
<line x1="537.7" y1="533.55" x2="555.5" y2="533.55" stroke="#080808" stroke-width="1.7"/>
<line x1="546.6" y1="590.8" x2="546.6" y2="595.2" stroke="#080808" stroke-width="1.5"/>
<clipPath id="c416_3_0"><rect x="581.6" y="519.07" width="34.9" height="28.93"/></clipPath>
<rect x="581.6" y="519.07" width="34.9" height="28.93" fill="#7c7c7c"/>
<g clip-path="url(#c416_3_0)" stroke="#080808" fill="none"><path d="M578.6 484.45L619.5 525.35M578.6 491.3L619.5 532.2M578.6 498.15L619.5 539.05M578.6 505L619.5 545.9M578.6 511.85L619.5 552.75M578.6 518.7L619.5 559.6M578.6 525.55L619.5 566.45M578.6 532.4L619.5 573.3M578.6 539.25L619.5 580.15M578.6 546.1L619.5 587" stroke-width="2.45"/></g>
<clipPath id="c416_3_1"><rect x="581.6" y="559.6" width="34.9" height="31.2"/></clipPath>
<rect x="581.6" y="559.6" width="34.9" height="31.2" fill="#7c7c7c"/>
<g clip-path="url(#c416_3_1)" stroke="#080808" fill="none"><path d="M578.6 518.7L619.5 559.6M578.6 525.55L619.5 566.45M578.6 532.4L619.5 573.3M578.6 539.25L619.5 580.15M578.6 546.1L619.5 587M578.6 552.95L619.5 593.85M578.6 559.8L619.5 600.7M578.6 566.65L619.5 607.55M578.6 573.5L619.5 614.4M578.6 580.35L619.5 621.25M578.6 587.2L619.5 628.1" stroke-width="2.45"/></g>
<path d="M582.45 548.0 V519.92 H615.65 V548.0" fill="none" stroke="#080808" stroke-width="1.7"/>
<path d="M582.45 559.6 V590.8 M615.65 559.6 V590.8" fill="none" stroke="#080808" stroke-width="1.7"/>
<line x1="599.05" y1="515.67" x2="599.05" y2="519.07" stroke="#080808" stroke-width="1.7"/>
<line x1="590.15" y1="515.67" x2="607.95" y2="515.67" stroke="#080808" stroke-width="1.7"/>
<line x1="599.05" y1="519.07" x2="599.05" y2="522.47" stroke="#080808" stroke-width="1.7"/>
<line x1="590.15" y1="522.47" x2="607.95" y2="522.47" stroke="#080808" stroke-width="1.7"/>
<line x1="599.05" y1="590.8" x2="599.05" y2="595.2" stroke="#080808" stroke-width="1.5"/>
<line x1="416" y1="451.3" x2="416" y2="548.0" stroke="#080808" stroke-width="1.6"/>
<line x1="416" y1="559.6" x2="416" y2="591.6" stroke="#080808" stroke-width="1.6"/>
<line x1="411.2" y1="590.8" x2="625.8" y2="590.8" stroke="#080808" stroke-width="1.6"/>
<line x1="412.2" y1="545.2" x2="420.2" y2="553.2" stroke="#080808" stroke-width="1.3"/>
<line x1="412.2" y1="554.4" x2="420.2" y2="562.2" stroke="#080808" stroke-width="1.3"/>
<line x1="411.2" y1="452.1" x2="416" y2="452.1" stroke="#080808" stroke-width="1.6"/>
<text x="410.2" y="455.8" text-anchor="end" font-size="10.1" font-weight="bold" fill="#0a0a0a" stroke="#0a0a0a" stroke-width="0.3">5.0</text>
<line x1="411.2" y1="471.4" x2="416" y2="471.4" stroke="#080808" stroke-width="1.6"/>
<text x="410.2" y="475.1" text-anchor="end" font-size="10.1" font-weight="bold" fill="#0a0a0a" stroke="#0a0a0a" stroke-width="0.3">4.5</text>
<line x1="411.2" y1="490.7" x2="416" y2="490.7" stroke="#080808" stroke-width="1.6"/>
<text x="410.2" y="494.4" text-anchor="end" font-size="10.1" font-weight="bold" fill="#0a0a0a" stroke="#0a0a0a" stroke-width="0.3">4.0</text>
<line x1="411.2" y1="510" x2="416" y2="510" stroke="#080808" stroke-width="1.6"/>
<text x="410.2" y="513.7" text-anchor="end" font-size="10.1" font-weight="bold" fill="#0a0a0a" stroke="#0a0a0a" stroke-width="0.3">3.5</text>
<line x1="411.2" y1="529.3" x2="416" y2="529.3" stroke="#080808" stroke-width="1.6"/>
<text x="410.2" y="533" text-anchor="end" font-size="10.1" font-weight="bold" fill="#0a0a0a" stroke="#0a0a0a" stroke-width="0.3">3.0</text>
<text x="410.2" y="552.0" text-anchor="end" font-size="10.1" font-weight="bold" fill="#0a0a0a" stroke="#0a0a0a" stroke-width="0.3">2.5</text>
<text x="410.2" y="562.7" text-anchor="end" font-size="10.1" font-weight="bold" fill="#0a0a0a" stroke="#0a0a0a" stroke-width="0.3">2</text>
<line x1="411.2" y1="575.35" x2="416" y2="575.35" stroke="#080808" stroke-width="1.6"/>
<text x="410.2" y="578.65" text-anchor="end" font-size="10.1" font-weight="bold" fill="#0a0a0a" stroke="#0a0a0a" stroke-width="0.3">1</text>
<text x="410.2" y="594.1" text-anchor="end" font-size="10.1" font-weight="bold" fill="#0a0a0a" stroke="#0a0a0a" stroke-width="0.3">0</text>
<text transform="translate(390,520) rotate(-90)" text-anchor="middle" font-size="10.05" font-weight="bold" fill="#0a0a0a" stroke="#0a0a0a" stroke-width="0.25">Hydrodynamic radius (nm)</text>
<line x1="439.8" y1="452.9" x2="492.3" y2="452.9" stroke="#080808" stroke-width="1.9"/>
<line x1="544.0" y1="478.5" x2="596.5999999999999" y2="478.5" stroke="#080808" stroke-width="1.9"/>
<text x="466.55" y="452.70000000000005" text-anchor="middle" font-size="17.4" font-weight="bold" fill="#0c0c0c" letter-spacing="1.7">***</text>
<text x="570.75" y="478.40000000000003" text-anchor="middle" font-size="17.4" font-weight="bold" fill="#0c0c0c" letter-spacing="1.7">***</text>
<text x="347" y="613.8" font-size="10.2" font-weight="bold" fill="#0a0a0a" stroke="#0a0a0a" stroke-width="0.2">HSA (mg/mL)</text>
<text x="347" y="637.4" font-size="10.2" font-weight="bold" fill="#0a0a0a" stroke="#0a0a0a" stroke-width="0.2">HDL (mg/mL)</text>
<text x="442.15" y="614.6" text-anchor="middle" font-size="10.3" font-weight="bold" fill="#111">4</text>
<text x="442.15" y="639.3" text-anchor="middle" font-size="10.3" font-weight="bold" fill="#111">0.01</text>
<text x="494.5" y="614.6" text-anchor="middle" font-size="10.3" font-weight="bold" fill="#111">4</text>
<text x="494.5" y="639.3" text-anchor="middle" font-size="10.3" font-weight="bold" fill="#111">0.05</text>
<text x="546.6" y="614.6" text-anchor="middle" font-size="10.3" font-weight="bold" fill="#111">1</text>
<text x="546.6" y="639.3" text-anchor="middle" font-size="10.3" font-weight="bold" fill="#111">0.01</text>
<text x="599.05" y="614.6" text-anchor="middle" font-size="10.3" font-weight="bold" fill="#111">1</text>
<text x="599.05" y="639.3" text-anchor="middle" font-size="10.3" font-weight="bold" fill="#111">0.05</text>
</svg>
</body></html>
